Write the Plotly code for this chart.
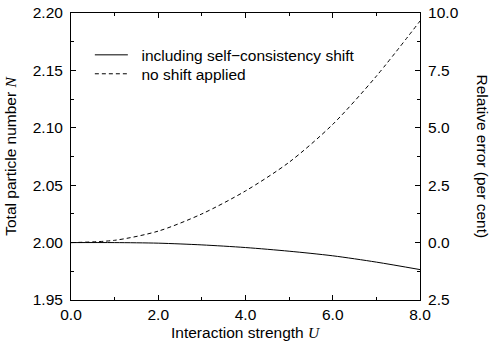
import plotly.graph_objects as go

U = [0, 1, 2, 3, 4, 5, 6, 7, 8]
N_shift = [2.000, 2.000, 1.9995, 1.998, 1.9957, 1.9925, 1.9885, 1.9830, 1.9765]
N_noshift = [2.000, 2.002, 2.010, 2.025, 2.045, 2.070, 2.103, 2.145, 2.193]

x_ticks = [0, 2, 4, 6, 8]
y_ticks = [1.95, 2.00, 2.05, 2.10, 2.15, 2.20]
y2_ticks = [-2.5, 0, 2.5, 5, 7.5, 10]
y2_labels = ["2.5", "0.0", "2.5", "5.0", "7.5", "10.0"]

FONT = "Liberation Sans"
SP = "\u00a0\u00a0"
fig = go.Figure()
fig.add_trace(go.Scatter(x=U, y=N_shift, mode="lines", name=SP + "including self\u2212consistency shift",
                         legend="legend",
                         line=dict(color="black", width=1, shape="spline", smoothing=0.8)))
fig.add_trace(go.Scatter(x=U, y=N_noshift, mode="lines", name=SP + "no shift applied",
                         legend="legend2",
                         line=dict(color="black", width=1, dash="4px,3px", shape="spline", smoothing=0.8)))
fig.add_trace(go.Scatter(x=[None], y=[None], yaxis="y2", showlegend=False, hoverinfo="skip"))

axcommon = dict(showline=True, linecolor="black", linewidth=1, ticks="inside", ticklen=5,
                tickcolor="black", showgrid=False, zeroline=False, automargin=False,
                tickfont=dict(family=FONT, size=15.5, color="black"))

legcommon = dict(xanchor="left", yanchor="top", bgcolor="rgba(0,0,0,0)",
                 font=dict(family=FONT, size=15.5), itemwidth=33)

fig.update_layout(
    width=492, height=342, margin=dict(l=71, r=72, t=13, b=42),
    paper_bgcolor="white", plot_bgcolor="white",
    font=dict(family=FONT, size=15.5, color="black"),
    xaxis=dict(range=[0, 8], tickvals=x_ticks, tickformat=".1f", mirror="ticks",
               minor=dict(dtick=1, ticks="inside", ticklen=3, tickcolor="black"),
               **axcommon),
    yaxis=dict(range=[1.95, 2.20], tickvals=y_ticks, tickformat=".2f",
               minor=dict(dtick=0.025, ticks="inside", ticklen=3, tickcolor="black"),
               title=dict(text="Total particle number <span style=\"font-family:'Liberation Serif'\"><i>N</i></span>",
                          font=dict(size=15.5), standoff=12),
               ticklabelstandoff=4,
               **axcommon),
    yaxis2=dict(range=[-2.5, 10], overlaying="y", side="right", tickvals=y2_ticks, ticktext=y2_labels,
                minor=dict(dtick=1.25, tick0=0, ticks="inside", ticklen=3, tickcolor="black"),
                ticklabelstandoff=4,
                **axcommon),
    legend=dict(x=0.054, y=0.912, **legcommon),
    legend2=dict(x=0.054, y=0.846, **legcommon),
    annotations=[
        dict(text="Relative error (per cent)", textangle=90, xref="paper", yref="paper",
             x=1.0, y=0.5, xshift=62, xanchor="center", yanchor="middle", showarrow=False,
             font=dict(family=FONT, size=15.5)),
        dict(text="Interaction strength <span style=\"font-family:'Liberation Serif'\"><i>U</i></span>",
             xref="paper", yref="paper", x=0.5, y=0, yshift=-32.5, xanchor="center", yanchor="middle",
             showarrow=False, font=dict(family=FONT, size=15.5)),
    ],
)
fig.write_html("out.html")
